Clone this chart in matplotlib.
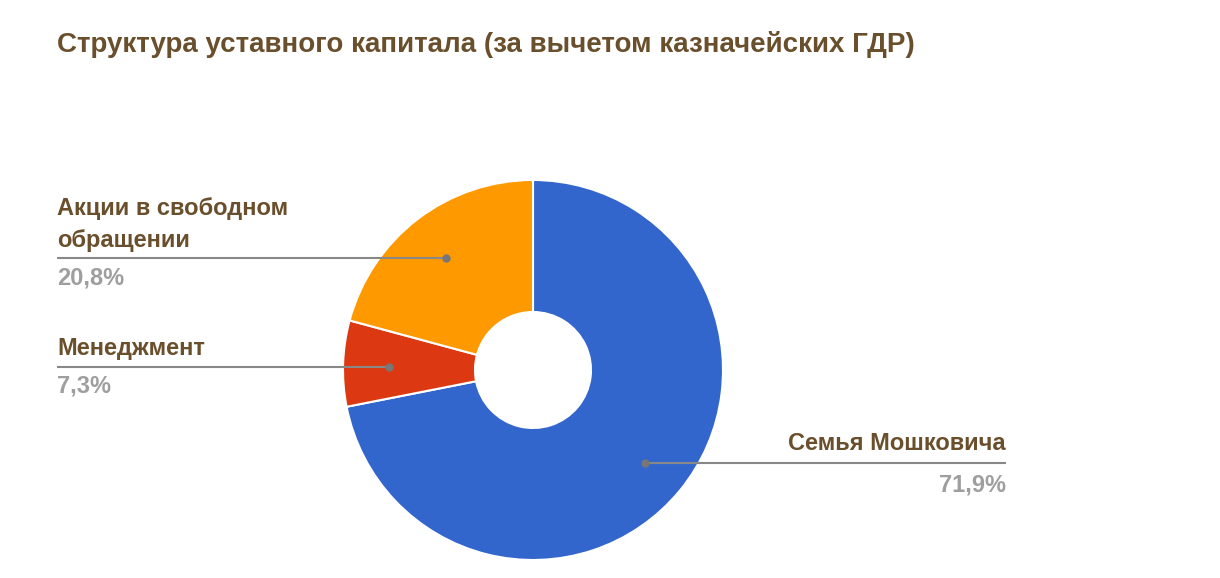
import matplotlib
matplotlib.use("Agg")
import matplotlib.pyplot as plt

title = "Структура уставного капитала (за вычетом казначейских ГДР)"
categories = ["Семья Мошковича", "Менеджмент", "Акции в свободном\nобращении"]
values = [71.9, 7.3, 20.8]
pct_labels = ["71,9%", "7,3%", "20,8%"]
colors = ["#3366cc", "#dc3912", "#ff9900"]

W, H = 1220, 578
fig = plt.figure(figsize=(W / 100, H / 100), dpi=100)
ax = fig.add_axes([0, 0, 1, 1])
ax.set_xlim(0, W)
ax.set_ylim(0, H)
ax.set_aspect("equal")
ax.axis("off")

def Y(y):
    return H - y

cx, cy, R = 533, 370, 190
wedges, _ = ax.pie(values, colors=colors, startangle=90, counterclock=False,
                   center=(cx, Y(cy)), radius=R,
                   wedgeprops=dict(width=132, edgecolor="white", linewidth=1.5))
ax.set_xlim(0, W)
ax.set_ylim(0, H)

fam = ["Liberation Sans", "DejaVu Sans"]
brown = "#6a4f2c"
gray = "#9e9e9e"
linec = "#888888"

fig.text(57 / W, 1 - 45 / H, title, fontsize=20, fontweight="bold", color=brown,
         family=fam, va="center", ha="left")

# label layout: (dot x, line y, line end x, side, text y, pct y)
layout = [
    (645, 463, 1006, "right", 443, 485),
    (389, 367, 57, "left", 349, 386),
    (446, 258, 57, "left", 225, 278),
]
for cat, pct, (dx, ly, ex, side, ty, py) in zip(categories, pct_labels, layout):
    ax.plot([dx, ex], [Y(ly), Y(ly)], color=linec, lw=1.5, solid_capstyle="butt")
    ax.plot([dx], [Y(ly)], "o", color="#777777", ms=5)
    ha = "right" if side == "right" else "left"
    ax.text(ex, Y(ty), cat, fontsize=17, fontweight="bold", color=brown, family=fam,
            ha=ha, va="center", linespacing=1.5)
    ax.text(ex, Y(py), pct, fontsize=17, fontweight="bold", color=gray, family=fam,
            ha=ha, va="center")

fig.savefig("out.png", dpi=100, facecolor="white")
